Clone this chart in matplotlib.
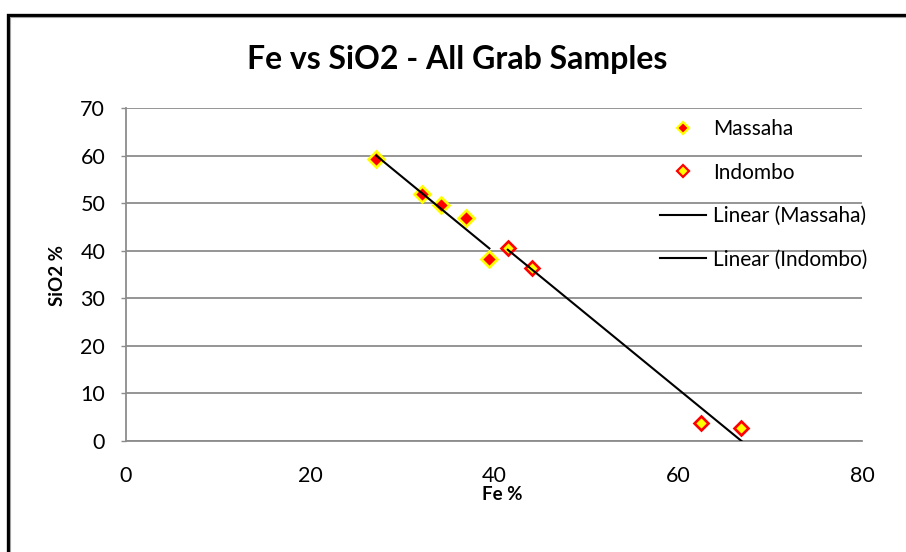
import numpy as np
import matplotlib
matplotlib.use("Agg")
import matplotlib.pyplot as plt
from matplotlib.patches import Rectangle
from matplotlib.lines import Line2D

plt.rcParams['font.family'] = ['Lato', 'DejaVu Sans']

# Data
massaha_fe = [27.2, 32.2, 34.2, 37.0, 39.5]
massaha_sio2 = [59.3, 52.0, 49.6, 46.9, 38.2]
indombo_fe = [41.5, 44.1, 62.5, 66.9]
indombo_sio2 = [40.5, 36.4, 3.7, 2.6]

title = "Fe vs SiO2 - All Grab Samples"
xlabel = "Fe %"
ylabel = "SiO2 %"
xticks = [0, 20, 40, 60, 80]
yticks = [0, 10, 20, 30, 40, 50, 60, 70]

W, H = 906, 552
fig = plt.figure(figsize=(W / 100, H / 100), dpi=100)

# chart border (cropped on right/bottom)
fig.patches.append(Rectangle((7.5 / W, -0.1), 2.0, 1 - 14.5 / H + 0.1,
                             transform=fig.transFigure, fill=False,
                             edgecolor='black', linewidth=2.4, zorder=0))
fig.patches.append(Rectangle((9.5 / W, -0.1), 2.0, 1 - 16.5 / H + 0.1,
                             transform=fig.transFigure, fill=False,
                             edgecolor='#a0a0a0', linewidth=0.8, zorder=0))

ax = fig.add_axes([126 / W, 1 - 440.8 / H, (862 - 126) / W, (440.8 - 108.3) / H])
ax.set_xlim(0, 80)
ax.set_ylim(0, 70)
ax.set_xticks(xticks)
ax.set_yticks(yticks)

grid_c = '#8c8c8c'
ax.grid(axis='y', color=grid_c, linewidth=1.3, zorder=0)
for s in ['top', 'right']:
    ax.spines[s].set_visible(False)
for s in ['left', 'bottom']:
    ax.spines[s].set_color(grid_c)
    ax.spines[s].set_linewidth(1.3)
ax.tick_params(axis='y', length=3.5, width=1.0, color=grid_c, pad=11.5, labelsize=15.5)
ax.tick_params(axis='x', length=0, pad=18.5, labelsize=15.5)

ax.plot(massaha_fe, massaha_sio2, linestyle='none', marker='D', markersize=7.8,
        markerfacecolor='#ff0000', markeredgecolor='#ffff00', markeredgewidth=1.9,
        zorder=3, clip_on=False)
ax.plot(indombo_fe, indombo_sio2, linestyle='none', marker='D', markersize=6.8,
        markerfacecolor='#ffff00', markeredgecolor='#ff0000', markeredgewidth=1.9,
        zorder=3, clip_on=False)

# linear trendlines over each series' x range
for xs, ys in [(massaha_fe, massaha_sio2), (indombo_fe, indombo_sio2)]:
    k, b = np.polyfit(xs, ys, 1)
    xx = np.array([min(xs), max(xs)])
    ax.plot(xx, k * xx + b, color='black', linewidth=1.5, zorder=4)

ax.set_xlabel(xlabel, fontsize=13.5, fontweight='bold', va='center')
ax.set_ylabel(ylabel, fontsize=13.5, fontweight='bold')
ax.xaxis.set_label_coords((502 - 126) / (862 - 126), -(494 - 440.8) / (440.8 - 108.3))
ax.yaxis.set_label_coords(-(126 - 66) / (862 - 126), (440.8 - 275) / (440.8 - 108.3))

fig.text(457 / W, 1 - 60 / H, title, fontsize=23, fontweight='bold',
         ha='center', va='center')

handles = [
    Line2D([], [], linestyle='none', marker='D', markersize=6.5,
           markerfacecolor='#ff0000', markeredgecolor='#ffff00', markeredgewidth=1.6),
    Line2D([], [], linestyle='none', marker='D', markersize=6,
           markerfacecolor='#ffff00', markeredgecolor='#ff0000', markeredgewidth=1.6),
    Line2D([], [], color='black', linewidth=1.5),
    Line2D([], [], color='black', linewidth=1.5),
]
labels = ['Massaha', 'Indombo', 'Linear (Massaha)', 'Linear (Indombo)']
fig.legend(handles, labels, loc='upper left', bbox_to_anchor=(660 / W, 1 - 119 / H),
           frameon=False, fontsize=15, handlelength=2.2, handletextpad=0.34,
           labelspacing=1.13, borderpad=0, borderaxespad=0)

fig.savefig('out.png', dpi=100)
